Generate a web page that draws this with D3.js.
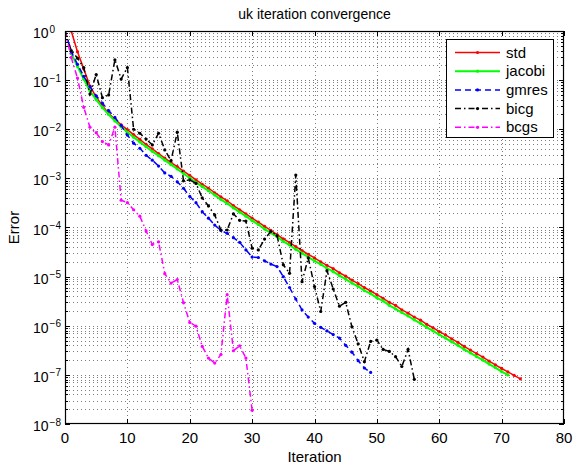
<!DOCTYPE html>
<html>
<head>
<meta charset="utf-8">
<script src="https://cdn.jsdelivr.net/npm/d3@7"></script>
<style>
  body { margin: 0; background: #fff; }
  text { font-family: "Liberation Sans", Arial, Helvetica, sans-serif; }
</style>
</head>
<body>
<div id="plot"></div>
<script>
const svgWidth = 574;
const svgHeight = 471;
const plotLeft = 65, plotRight = 564, plotTop = 31, plotBottom = 424;

// error per iteration
const stdIter = d3.range(1, 74);
const stdErr = [1.0, 3.8e-1, 1.7e-1, 7.6e-2, 4.5e-2, 3.0e-2, 2.1e-2, 1.6e-2, 1.23e-2, 9.8e-3,
  7.8e-3, 6.2e-3, 4.9e-3, 4.0e-3, 3.2e-3, 2.6e-3, 2.1e-3, 1.74e-3, 1.41e-3, 1.15e-3,
  9.3e-4, 7.6e-4, 6.3e-4, 5.1e-4, 4.2e-4, 3.5e-4, 2.8e-4, 2.3e-4, 1.9e-4, 1.55e-4,
  1.29e-4, 1.05e-4, 8.7e-5, 7.2e-5, 5.9e-5, 4.9e-5, 4.1e-5, 3.4e-5, 2.85e-5, 2.4e-5,
  2.0e-5, 1.7e-5, 1.45e-5, 1.2e-5, 1.02e-5, 8.5e-6, 7.2e-6, 6.0e-6, 5.1e-6, 4.3e-6,
  3.6e-6, 3.0e-6, 2.6e-6, 2.1e-6, 1.8e-6, 1.5e-6, 1.3e-6, 1.07e-6, 9.1e-7, 7.6e-7,
  6.5e-7, 5.4e-7, 4.6e-7, 3.8e-7, 3.2e-7, 2.7e-7, 2.3e-7, 1.9e-7, 1.6e-7, 1.35e-7,
  1.15e-7, 9.8e-8, 8.3e-8];

const jacobiIter = d3.range(1, 72);
const jacobiErr = [3.5e-1, 1.9e-1, 1.05e-1, 6.0e-2, 4.0e-2, 2.75e-2, 2.0e-2, 1.48e-2, 1.12e-2, 8.7e-3,
  6.9e-3, 5.5e-3, 4.4e-3, 3.55e-3, 2.9e-3, 2.35e-3, 1.9e-3, 1.55e-3, 1.26e-3, 1.02e-3,
  8.3e-4, 6.8e-4, 5.6e-4, 4.6e-4, 3.7e-4, 3.1e-4, 2.5e-4, 2.05e-4, 1.7e-4, 1.38e-4,
  1.15e-4, 9.3e-5, 7.8e-5, 6.5e-5, 5.2e-5, 4.4e-5, 3.6e-5, 3.0e-5, 2.5e-5, 2.1e-5,
  1.78e-5, 1.48e-5, 1.26e-5, 1.05e-5, 8.9e-6, 7.4e-6, 6.3e-6, 5.2e-6, 4.5e-6, 3.7e-6,
  3.2e-6, 2.6e-6, 2.2e-6, 1.86e-6, 1.58e-6, 1.32e-6, 1.12e-6, 9.3e-7, 7.9e-7, 6.6e-7,
  5.6e-7, 4.7e-7, 4.0e-7, 3.3e-7, 2.8e-7, 2.35e-7, 2.0e-7, 1.66e-7, 1.41e-7, 1.17e-7,
  1.0e-7];

const gmresIter = d3.range(0, 50);
const gmresErr = [1.0, 3.8e-1, 2.1e-1, 1.2e-1, 7.4e-2, 4.8e-2, 3.4e-2, 2.4e-2, 1.74e-2, 1.2e-2,
  7.6e-3, 5.2e-3, 4.1e-3, 2.95e-3, 2.35e-3, 1.78e-3, 1.29e-3, 1.1e-3, 8.5e-4, 6.3e-4,
  4.3e-4, 3.2e-4, 2.1e-4, 1.55e-4, 1.12e-4, 8.7e-5, 7.6e-5, 6.2e-5, 5.0e-5, 3.5e-5,
  2.5e-5, 2.45e-5, 2.1e-5, 1.8e-5, 1.6e-5, 1.0e-5, 6.0e-6, 3.5e-6, 2.1e-6, 1.5e-6,
  1.12e-6, 9.3e-7, 7.9e-7, 6.6e-7, 5.6e-7, 4.0e-7, 2.9e-7, 1.95e-7, 1.38e-7, 1.12e-7];

const bicgIter = d3.range(0, 57);
const bicgErr = [1.0, 4.0e-1, 2.8e-1, 1.8e-1, 5.2e-2, 1.3e-1, 4.4e-2, 5.0e-2, 2.6e-1, 1.05e-1,
  1.8e-1, 1.0e-2, 8.3e-3, 6.3e-3, 4.8e-3, 8.3e-3, 3.8e-3, 2.3e-3, 8.7e-3, 8.9e-4,
  9.3e-4, 7.9e-4, 4.0e-4, 2.75e-4, 1.8e-4, 8.9e-5, 8.9e-5, 1.9e-4, 1.4e-4, 1.35e-4,
  3.8e-5, 3.5e-5, 5.8e-5, 8.3e-5, 6.8e-5, 1.74e-5, 1.17e-5, 1.17e-3, 7.9e-6, 2.4e-5,
  6.3e-6, 1.95e-6, 1.32e-5, 5.6e-6, 2.5e-6, 3.0e-6, 9.5e-7, 4.3e-7, 1.86e-7, 4.8e-7,
  5.1e-7, 3.3e-7, 3.0e-7, 2.35e-7, 1.48e-7, 3.3e-7, 8.1e-8];

const bcgsIter = d3.range(0, 31);
const bcgsErr = [1.0, 2.9e-1, 1.1e-1, 2.8e-2, 1.1e-2, 8.5e-3, 5.6e-3, 4.8e-3, 1.1e-2, 3.6e-4,
  3.2e-4, 2.3e-4, 1.7e-4, 8.5e-5, 4.5e-5, 5.1e-5, 1.15e-5, 7.4e-6, 8.7e-6, 2.95e-6,
  1.17e-6, 9.8e-7, 3.8e-7, 2.2e-7, 1.74e-7, 2.6e-7, 4.3e-6, 3.1e-7, 3.9e-7, 2.2e-7,
  1.9e-8];

const seriesNames = ["std", "jacobi", "gmres", "bicg", "bcgs"];
const seriesColors = ["#ff0000", "#00ff00", "#0000ff", "#000000", "#ff00ff"];
const seriesDash = [null, null, "6,4", "6,3,1.5,3", "6,3,1.5,3"];
const seriesWidth = [1.5, 2, 1.5, 1.5, 1.5];

const xTicks = [0, 10, 20, 30, 40, 50, 60, 70, 80];
const yDecades = [0, -1, -2, -3, -4, -5, -6, -7, -8];

const xScale = d3.scaleLinear().domain([0, 80]).range([plotLeft, plotRight]);
const yScale = d3.scaleLog().domain([1e-8, 1]).range([plotBottom, plotTop]);

const svg = d3.select("#plot")
  .append("svg")
  .attr("width", svgWidth)
  .attr("height", svgHeight);

svg.append("rect").attr("x", plotLeft).attr("y", plotTop)
  .attr("width", plotRight - plotLeft).attr("height", plotBottom - plotTop).attr("fill", "#fff");

// grid
const minorVals = [];
for (let e = -8; e < 0; e++) {
  for (let m = 1; m < 10; m++) minorVals.push(m * Math.pow(10, e));
}
const grid = svg.append("g")
  .attr("stroke", "#222").attr("stroke-width", 0.9)
  .attr("stroke-dasharray", "1,3").attr("opacity", 0.65);
grid.selectAll(".gy").data(minorVals.filter(v => v > 1e-8)).enter()
  .append("line")
  .attr("x1", plotLeft).attr("x2", plotRight)
  .attr("y1", d => Math.round(yScale(d)) + 0.5).attr("y2", d => Math.round(yScale(d)) + 0.5);
grid.selectAll(".gx").data(xTicks.slice(1, -1)).enter()
  .append("line")
  .attr("y1", plotTop).attr("y2", plotBottom)
  .attr("x1", d => Math.round(xScale(d)) + 0.5).attr("x2", d => Math.round(xScale(d)) + 0.5);

// series
svg.append("clipPath").attr("id", "clip")
  .append("rect").attr("x", plotLeft).attr("y", plotTop)
  .attr("width", plotRight - plotLeft).attr("height", plotBottom - plotTop);

const allIter = [stdIter, jacobiIter, gmresIter, bicgIter, bcgsIter];
const allErr = [stdErr, jacobiErr, gmresErr, bicgErr, bcgsErr];
const line = d3.line().x(d => xScale(d[0])).y(d => yScale(d[1]));

const plot = svg.append("g").attr("clip-path", "url(#clip)");
seriesNames.forEach((name, k) => {
  const pts = allIter[k].map((it, j) => [it, allErr[k][j]]);
  plot.append("path")
    .datum(pts)
    .attr("d", line)
    .attr("fill", "none")
    .attr("stroke", seriesColors[k])
    .attr("stroke-width", seriesWidth[k])
    .attr("stroke-dasharray", seriesDash[k]);
  plot.append("g").selectAll("circle")
    .data(pts).enter()
    .append("circle")
    .attr("cx", d => xScale(d[0]))
    .attr("cy", d => yScale(d[1]))
    .attr("r", 1.6)
    .attr("fill", seriesColors[k]);
});

// axes box and ticks (inside, all four sides)
const axes = svg.append("g").attr("stroke", "#000").attr("stroke-width", 1);
axes.append("rect").attr("x", plotLeft + 0.5).attr("y", plotTop + 0.5)
  .attr("width", plotRight - plotLeft - 1).attr("height", plotBottom - plotTop - 1)
  .attr("fill", "none").attr("stroke-width", 1.2);
xTicks.forEach(t => {
  const x = Math.round(xScale(t)) + 0.5;
  axes.append("line").attr("x1", x).attr("x2", x).attr("y1", plotBottom).attr("y2", plotBottom - 5);
  axes.append("line").attr("x1", x).attr("x2", x).attr("y1", plotTop).attr("y2", plotTop + 5);
});
minorVals.concat([1]).forEach(v => {
  const y = Math.round(yScale(v)) + 0.5;
  const major = Math.abs(Math.log10(v) - Math.round(Math.log10(v))) < 1e-9;
  const len = major ? 5 : 3;
  axes.append("line").attr("x1", plotLeft).attr("x2", plotLeft + len).attr("y1", y).attr("y2", y);
  axes.append("line").attr("x1", plotRight).attr("x2", plotRight - len).attr("y1", y).attr("y2", y);
});

// tick labels
svg.append("g").selectAll("text").data(xTicks).enter()
  .append("text")
  .attr("x", d => xScale(d))
  .attr("y", 443)
  .attr("text-anchor", "middle")
  .attr("font-size", 15)
  .text(d => d);

const yl = svg.append("g").selectAll("text").data(yDecades).enter()
  .append("text")
  .attr("x", 33)
  .attr("y", d => yScale(Math.pow(10, d)) + 7)
  .attr("font-size", 14);
yl.append("tspan").text("10");
yl.append("tspan").attr("dx", 1).attr("dy", -5.5).attr("font-size", 10)
  .text(d => d === 0 ? "0" : "\u2212" + Math.abs(d));

// titles
svg.append("text").attr("x", (plotLeft + plotRight) / 2).attr("y", 19)
  .attr("text-anchor", "middle").attr("font-size", 14)
  .text("uk iteration convergence");
svg.append("text").attr("x", (plotLeft + plotRight) / 2).attr("y", 462)
  .attr("text-anchor", "middle").attr("font-size", 15)
  .text("Iteration");
svg.append("text").attr("transform", `translate(19, ${(plotTop + plotBottom) / 2}) rotate(-90)`)
  .attr("text-anchor", "middle").attr("font-size", 15)
  .text("Error");

// legend
const lg = svg.append("g");
lg.append("rect").attr("x", 446.5).attr("y", 39.5).attr("width", 107).attr("height", 98)
  .attr("fill", "#fff").attr("stroke", "#000").attr("stroke-width", 1);
seriesNames.forEach((name, k) => {
  const y = 52.5 + k * 18.7;
  lg.append("line").attr("x1", 455).attr("x2", 500).attr("y1", y).attr("y2", y)
    .attr("stroke", seriesColors[k]).attr("stroke-width", seriesWidth[k])
    .attr("stroke-dasharray", seriesDash[k]);
  lg.append("circle").attr("cx", 477.5).attr("cy", y).attr("r", 1.6)
    .attr("fill", seriesColors[k]);
  lg.append("text").attr("x", 506).attr("y", y + 5).attr("font-size", 15)
    .text(name);
});
</script>
</body>
</html>
